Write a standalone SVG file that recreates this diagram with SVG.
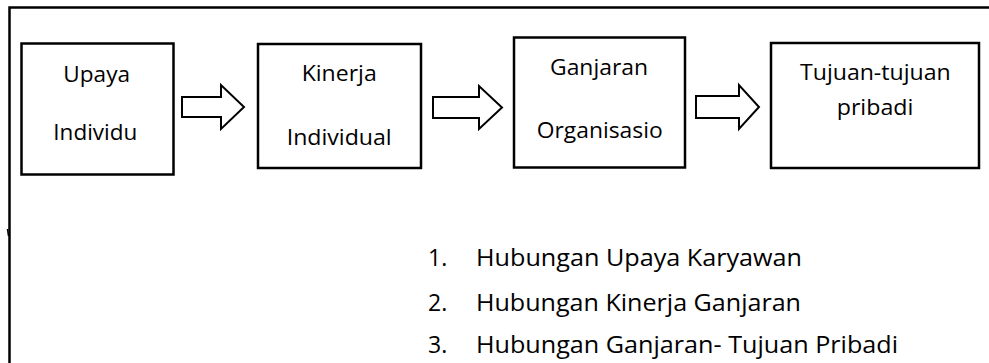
<svg xmlns="http://www.w3.org/2000/svg" width="989" height="363" viewBox="0 0 989 363">
<style>
.box{fill:#fff;stroke:#000;stroke-width:2.5}
.arr{fill:#fff;stroke:#000;stroke-width:2;stroke-linejoin:miter}
.t{font-family:"Open Sans","Noto Sans","Liberation Sans",sans-serif;font-size:21.5px;fill:#000}
.l{font-family:"Open Sans","Noto Sans","Liberation Sans",sans-serif;font-size:23px;fill:#000}
</style>
<rect width="989" height="363" fill="#fff"/>
<g id="frame">
<path d="M9.5 363 V7.5 H989" fill="none" stroke="#000" stroke-width="2.5"/>
<path d="M7.5 229 L8.5 236" stroke="#000" stroke-width="1.5"/>
</g>
<g id="node-upaya">
<rect class="box" x="21.5" y="43.5" width="152" height="131"/>
<text class="t" x="63.3" y="82" textLength="66.7" lengthAdjust="spacingAndGlyphs">Upaya</text>
<text class="t" x="53.3" y="140" textLength="84" lengthAdjust="spacingAndGlyphs">Individu</text>
</g>
<g id="node-kinerja">
<rect class="box" x="258" y="44" width="163" height="124"/>
<text class="t" x="301.7" y="81" textLength="75" lengthAdjust="spacingAndGlyphs">Kinerja</text>
<text class="t" x="286.7" y="145" textLength="105" lengthAdjust="spacingAndGlyphs">Individual</text>
</g>
<g id="node-ganjaran">
<rect class="box" x="514" y="37.5" width="171" height="130"/>
<text class="t" x="550" y="75" textLength="98" lengthAdjust="spacingAndGlyphs">Ganjaran</text>
<text class="t" x="536.7" y="138" textLength="126" lengthAdjust="spacingAndGlyphs">Organisasio</text>
</g>
<g id="node-tujuan">
<rect class="box" x="771" y="43" width="208" height="125"/>
<text class="t" x="800" y="80" textLength="150.7" lengthAdjust="spacingAndGlyphs">Tujuan-tujuan</text>
<text class="t" x="836.7" y="115" textLength="76.7" lengthAdjust="spacingAndGlyphs">pribadi</text>
</g>
<g id="connectors">
<path class="arr" d="M182 97 H221 V85 L244 107 L221 129 V117 H182 Z"/>
<path class="arr" d="M433 97 H479 V86 L502 107.5 L479 129 V118 H433 Z"/>
<path class="arr" d="M696 96 H739 V85 L759 107 L739 129 V118 H696 Z"/>
</g>
<g id="list">
<text class="l" x="428" y="266">1.</text>
<text class="l" x="476" y="266" textLength="326" lengthAdjust="spacingAndGlyphs">Hubungan Upaya Karyawan</text>
<text class="l" x="428" y="311">2.</text>
<text class="l" x="476" y="311" textLength="325" lengthAdjust="spacingAndGlyphs">Hubungan Kinerja Ganjaran</text>
<text class="l" x="428" y="353">3.</text>
<text class="l" x="476" y="353" textLength="422" lengthAdjust="spacingAndGlyphs">Hubungan Ganjaran- Tujuan Pribadi</text>
</g>
</svg>
